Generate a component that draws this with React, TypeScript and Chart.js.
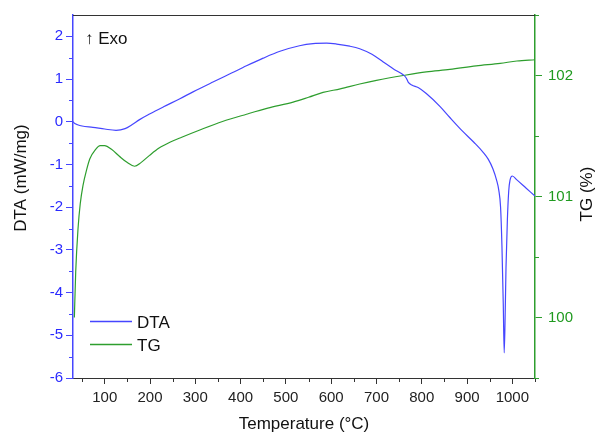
import React, { useEffect, useRef } from "react";
import { Chart, registerables } from "chart.js";

Chart.register(...registerables);

// DTA curve (temperature °C, mW/mg)
const dtaTemp = [30, 34, 40, 50, 74, 100, 125, 145, 160, 177, 199, 230, 266, 295, 339, 380, 413, 450, 487, 530, 560, 590, 612, 641, 663, 690, 715, 740, 759, 766, 770, 778, 792, 810, 840, 862, 890, 915, 936, 947, 957, 965, 970, 974, 977, 980, 982, 984, 986, 989, 992, 995, 1000, 1010, 1030, 1050];
const dtaValues = [0.0, -0.04, -0.07, -0.1, -0.13, -0.17, -0.2, -0.16, -0.07, 0.05, 0.18, 0.35, 0.54, 0.7, 0.93, 1.14, 1.31, 1.49, 1.65, 1.78, 1.83, 1.84, 1.82, 1.77, 1.71, 1.58, 1.4, 1.22, 1.1, 1.02, 0.93, 0.86, 0.8, 0.66, 0.36, 0.1, -0.22, -0.48, -0.72, -0.88, -1.1, -1.36, -1.6, -2.0, -2.9, -4.3, -5.41, -4.6, -3.4, -2.3, -1.62, -1.36, -1.27, -1.36, -1.55, -1.74];

// TG curve (temperature °C, %)
const tgTemp = [33, 36, 41, 46, 52, 60, 67, 80, 90, 100, 115, 133, 150, 166, 180, 199, 220, 245, 270, 310, 360, 413, 460, 516, 550, 582, 620, 663, 700, 759, 810, 862, 920, 973, 1010, 1050];
const tgValues = [100.0, 100.38, 100.73, 100.94, 101.09, 101.22, 101.31, 101.39, 101.42, 101.42, 101.39, 101.33, 101.28, 101.25, 101.28, 101.34, 101.4, 101.45, 101.49, 101.55, 101.62, 101.68, 101.73, 101.78, 101.82, 101.86, 101.89, 101.93, 101.96, 102.0, 102.03, 102.05, 102.08, 102.1, 102.12, 102.13];

const xTicks = [100, 200, 300, 400, 500, 600, 700, 800, 900, 1000];
const xMinorTicks = [50, 150, 250, 350, 450, 550, 650, 750, 850, 950, 1050];
const dtaTicks = [-6, -5, -4, -3, -2, -1, 0, 1, 2];
const dtaMinorTicks = [-5.5, -4.5, -3.5, -2.5, -1.5, -0.5, 0.5, 1.5];
const tgTicks = [100, 101, 102];
const tgMinorTicks = [99.5, 100.5, 101.5, 102.5];

const BLUE = "#4646ff";
const BLUE_TEXT = "#2a2aff";
const GREEN = "#2e9e2e";
const GREEN_TEXT = "#1f9a1f";
const FONT = "'Liberation Sans', Arial, sans-serif";

const decorPlugin = {
  id: "decor",
  afterDraw(chart: any) {
    const ctx = chart.ctx;
    const { left, right, top, bottom } = chart.chartArea;
    const x = chart.scales.x;
    const y = chart.scales.y;
    const y2 = chart.scales.y2;
    ctx.save();
    // top frame
    ctx.strokeStyle = "#333";
    ctx.lineWidth = 1;
    ctx.beginPath();
    ctx.moveTo(left, top + 0.5);
    ctx.lineTo(right, top + 0.5);
    ctx.stroke();
    // minor ticks
    ctx.strokeStyle = "#333";
    ctx.beginPath();
    xMinorTicks.forEach((v) => {
      const px = Math.round(x.getPixelForValue(v)) + 0.5;
      ctx.moveTo(px, bottom);
      ctx.lineTo(px, bottom + 4);
    });
    ctx.stroke();
    ctx.strokeStyle = BLUE;
    ctx.beginPath();
    dtaMinorTicks.forEach((v) => {
      const py = Math.round(y.getPixelForValue(v)) + 0.5;
      ctx.moveTo(left, py);
      ctx.lineTo(left - 4, py);
    });
    ctx.stroke();
    ctx.strokeStyle = GREEN;
    ctx.beginPath();
    tgMinorTicks.forEach((v) => {
      const py = Math.round(y2.getPixelForValue(v)) + 0.5;
      ctx.moveTo(right, py);
      ctx.lineTo(right + 4, py);
    });
    ctx.stroke();

    // titles
    ctx.fillStyle = "#111";
    ctx.font = `17px ${FONT}`;
    ctx.textAlign = "center";
    ctx.textBaseline = "middle";
    ctx.fillText("Temperature (°C)", (left + right) / 2, 424);
    ctx.save();
    ctx.translate(21, 178);
    ctx.rotate(-Math.PI / 2);
    ctx.fillText("DTA (mW/mg)", 0, 0);
    ctx.restore();
    ctx.save();
    ctx.translate(587, 194);
    ctx.rotate(-Math.PI / 2);
    ctx.fillText("TG (%)", 0, 0);
    ctx.restore();

    // Exo marker
    ctx.textAlign = "left";
    ctx.textBaseline = "alphabetic";
    ctx.fillText("↑ Exo", 85, 44);

    // legend
    ctx.lineWidth = 1.3;
    ctx.strokeStyle = BLUE;
    ctx.beginPath();
    ctx.moveTo(90, 321.5);
    ctx.lineTo(132, 321.5);
    ctx.stroke();
    ctx.strokeStyle = GREEN;
    ctx.beginPath();
    ctx.moveTo(90, 344.5);
    ctx.lineTo(132, 344.5);
    ctx.stroke();
    ctx.fillStyle = "#111";
    ctx.fillText("DTA", 137, 327.5);
    ctx.fillText("TG", 137, 350.5);
    ctx.restore();
  },
};

export default function App() {
  const ref = useRef<HTMLCanvasElement | null>(null);
  useEffect(() => {
    if (!ref.current) return;
    Chart.defaults.font.family = FONT;
    const dtaData = dtaTemp.map((t, i) => ({ x: t, y: dtaValues[i] }));
    const tgData = tgTemp.map((t, i) => ({ x: t, y: tgValues[i] }));
    const plain = (v: any) => String(v);
    const chart = new Chart(ref.current, {
      type: "line",
      data: {
        datasets: [
          {
            label: "DTA",
            data: dtaData,
            yAxisID: "y",
            borderColor: BLUE,
            borderWidth: 1.2,
            pointRadius: 0,
            cubicInterpolationMode: "monotone",
            fill: false,
          },
          {
            label: "TG",
            data: tgData,
            yAxisID: "y2",
            borderColor: GREEN,
            borderWidth: 1.2,
            pointRadius: 0,
            cubicInterpolationMode: "monotone",
            fill: false,
          },
        ],
      },
      options: {
        animation: false,
        responsive: false,
        devicePixelRatio: 1,
        layout: { padding: { top: 15, left: 0, right: 0, bottom: 0 } },
        plugins: {
          legend: { display: false },
          tooltip: { enabled: false },
        },
        scales: {
          x: {
            type: "linear",
            position: "bottom",
            min: 30,
            max: 1050,
            afterBuildTicks: (s: any) => {
              s.ticks = xTicks.map((v) => ({ value: v }));
            },
            afterFit: (s: any) => {
              s.height = 59;
            },
            grid: { display: true, drawOnChartArea: false, drawTicks: true, tickLength: 6, color: "#333" },
            border: { display: true, color: "#333", width: 1 },
            ticks: { color: "#222", font: { size: 15 }, padding: 5, maxRotation: 0, autoSkip: false, callback: plain },
          },
          y: {
            type: "linear",
            position: "left",
            min: -6,
            max: 2.5,
            afterBuildTicks: (s: any) => {
              s.ticks = dtaTicks.map((v) => ({ value: v }));
            },
            afterFit: (s: any) => {
              s.width = 73;
            },
            grid: { display: true, drawOnChartArea: false, drawTicks: true, tickLength: 7, color: BLUE },
            border: { display: true, color: BLUE, width: 1.5 },
            ticks: { color: BLUE_TEXT, font: { size: 15 }, padding: 3, autoSkip: false, callback: plain },
          },
          y2: {
            type: "linear",
            position: "right",
            min: 99.5,
            max: 102.5,
            afterBuildTicks: (s: any) => {
              s.ticks = tgTicks.map((v) => ({ value: v }));
            },
            afterFit: (s: any) => {
              s.width = 61;
            },
            grid: { display: true, drawOnChartArea: false, drawTicks: true, tickLength: 7, color: GREEN },
            border: { display: true, color: GREEN, width: 1.5 },
            ticks: { color: GREEN_TEXT, font: { size: 15 }, padding: 6, autoSkip: false, callback: plain },
          },
        },
      } as any,
      plugins: [decorPlugin],
    });
    return () => chart.destroy();
  }, []);
  return (
    <div style={{ position: "absolute", left: 0, top: 0, width: 596, height: 437, background: "#fff" }}>
      <canvas ref={ref} width={596} height={437} style={{ width: 596, height: 437, display: "block" }} />
    </div>
  );
}
